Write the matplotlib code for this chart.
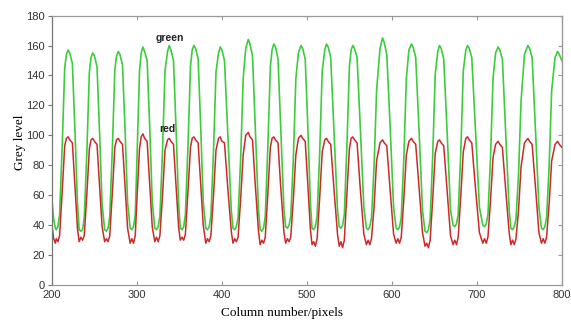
import matplotlib.pyplot as plt

# column positions (pixels) and grey levels, one row per cycle
column = [
    200, 202,
    204, 205, 207, 209, 212, 215, 217, 219, 221, 224, 227, 230,
    232, 234, 236, 238, 241, 244, 246, 248, 250, 253, 256, 259,
    262, 264, 266, 268, 271, 274, 276, 278, 280, 283, 286, 289,
    292, 294, 296, 298, 300, 303, 305, 307, 309, 312, 315, 318,
    321, 323, 325, 327, 330, 333, 336, 338, 340, 343, 346, 349,
    351, 353, 355, 357, 360, 363, 365, 367, 369, 372, 375, 378,
    381, 383, 385, 387, 390, 393, 396, 398, 400, 403, 407, 411,
    413, 415, 417, 419, 422, 425, 428, 431, 433, 436, 439, 443,
    445, 447, 449, 451, 454, 457, 459, 461, 463, 466, 469, 473,
    475, 477, 479, 481, 484, 487, 490, 493, 495, 498, 501, 504,
    506, 508, 510, 512, 515, 518, 521, 523, 525, 528, 532, 536,
    538, 540, 542, 544, 547, 550, 552, 554, 556, 559, 563, 567,
    570, 572, 574, 576, 579, 582, 586, 589, 591, 594, 598, 602,
    605, 607, 609, 611, 614, 617, 620, 623, 625, 628, 632, 636,
    639, 641, 643, 645, 648, 651, 654, 656, 658, 661, 665, 669,
    672, 674, 676, 678, 681, 684, 687, 689, 691, 694, 698, 703,
    707, 709, 711, 713, 716, 719, 722, 725, 727, 730, 734, 738,
    740, 742, 744, 746, 749, 752, 756, 760, 762, 765, 769, 773,
    776, 778, 780, 782, 785, 788, 792, 795, 797, 800,
]

green = [
    57, 44,
    38, 37, 39, 47, 92, 145, 154, 157, 155, 148, 104, 55,
    37, 36, 37, 45, 88, 142, 152, 155, 153, 146, 102, 54,
    37, 36, 38, 46, 90, 144, 153, 156, 154, 147, 104, 55,
    38, 37, 39, 47, 84, 143, 155, 159, 156, 150, 106, 56,
    38, 37, 39, 46, 88, 143, 156, 160, 157, 150, 105, 55,
    38, 37, 39, 47, 92, 146, 157, 160, 158, 151, 106, 56,
    38, 37, 39, 46, 88, 142, 155, 159, 157, 150, 100, 50,
    38, 37, 39, 45, 84, 138, 158, 164, 161, 153, 109, 50,
    37, 36, 38, 46, 92, 146, 157, 161, 159, 151, 107, 50,
    39, 38, 40, 46, 84, 138, 155, 160, 158, 151, 107, 56,
    38, 37, 39, 46, 88, 143, 157, 161, 159, 152, 101, 50,
    39, 38, 40, 47, 92, 146, 157, 160, 158, 152, 103, 52,
    38, 37, 39, 45, 79, 130, 158, 165, 162, 154, 105, 52,
    38, 37, 39, 45, 84, 138, 157, 161, 159, 152, 103, 50,
    36, 35, 37, 44, 86, 141, 156, 160, 158, 151, 102, 50,
    40, 39, 41, 47, 88, 143, 157, 160, 158, 152, 107, 52,
    40, 39, 41, 47, 84, 138, 155, 159, 157, 151, 101, 50,
    38, 37, 39, 44, 74, 123, 154, 160, 158, 152, 103, 52,
    38, 37, 39, 45, 79, 130, 152, 156, 154, 150,
]

red = [
    40, 31,
    28, 31, 29, 33, 62, 93, 98, 99, 97, 95, 67, 38,
    29, 32, 30, 33, 60, 91, 97, 98, 96, 94, 67, 39,
    29, 31, 29, 33, 61, 92, 97, 98, 96, 94, 66, 38,
    28, 31, 28, 33, 57, 91, 99, 101, 98, 96, 68, 39,
    29, 32, 29, 33, 59, 90, 97, 98, 96, 94, 67, 39,
    30, 32, 30, 34, 62, 92, 98, 99, 97, 95, 68, 40,
    28, 31, 29, 33, 59, 90, 98, 99, 96, 95, 64, 36,
    28, 31, 29, 32, 57, 87, 100, 102, 99, 97, 69, 36,
    27, 30, 28, 32, 61, 92, 98, 99, 97, 95, 67, 35,
    28, 31, 29, 32, 57, 87, 98, 100, 98, 96, 68, 38,
    27, 29, 26, 31, 58, 89, 97, 98, 96, 94, 63, 34,
    26, 29, 25, 30, 60, 91, 98, 99, 97, 95, 63, 34,
    27, 30, 27, 31, 52, 83, 95, 97, 95, 93, 63, 34,
    28, 31, 28, 32, 57, 87, 96, 98, 96, 94, 65, 35,
    26, 28, 25, 30, 57, 88, 96, 97, 95, 93, 63, 33,
    27, 30, 27, 32, 59, 89, 98, 99, 97, 95, 67, 35,
    28, 31, 28, 32, 56, 85, 94, 96, 94, 92, 63, 35,
    27, 30, 27, 31, 50, 79, 95, 98, 96, 94, 65, 35,
    28, 31, 28, 32, 54, 83, 94, 96, 94, 92,
]

x_ticks = [200, 300, 400, 500, 600, 700, 800]
y_ticks = [0, 20, 40, 60, 80, 100, 120, 140, 160, 180]

fig = plt.figure(figsize=(5.71, 3.24), dpi=100)
ax = fig.add_axes([0.091, 0.12, 0.893, 0.832])

ax.plot(column, green, color='#3ccc3c', linewidth=1.2)
ax.plot(column, red, color='#cc2a2a', linewidth=1.1)

ax.text(339, 165, 'green', fontsize=7.5, fontweight='bold', color='#222222',
        ha='center', va='center', family='Liberation Sans')
ax.text(336, 104, 'red', fontsize=7.5, fontweight='bold', color='#222222',
        ha='center', va='center', family='Liberation Sans')

ax.set_xlim(200, 800)
ax.set_ylim(0, 180)
ax.set_xticks(x_ticks)
ax.set_yticks(y_ticks)
ax.tick_params(labelsize=8, colors='#333333', length=3)
ax.tick_params(axis='y', direction='out', color='#777777', pad=2)
ax.tick_params(axis='x', direction='in', top=True, color='#999999')
for lab in ax.get_xticklabels() + ax.get_yticklabels():
    lab.set_family('Liberation Sans')

# right side ticks point inward
right = ax.secondary_yaxis('right')
right.set_yticks(y_ticks)
right.tick_params(direction='in', length=3, color='#999999', labelright=False)
right.spines['right'].set_color('#999999')

for name, sp in ax.spines.items():
    sp.set_color('#999999')
    sp.set_linewidth(0.9)
ax.spines['left'].set_color('#777777')

ax.set_xlabel('Column number/pixels', family='Liberation Serif', fontsize=9.5)
ax.set_ylabel('Grey level', family='Liberation Serif', fontsize=9.5)
ax.xaxis.set_label_coords(0.451, -0.081)
ax.yaxis.set_label_coords(-0.051, 0.53)

fig.savefig('out.png', dpi=100)
